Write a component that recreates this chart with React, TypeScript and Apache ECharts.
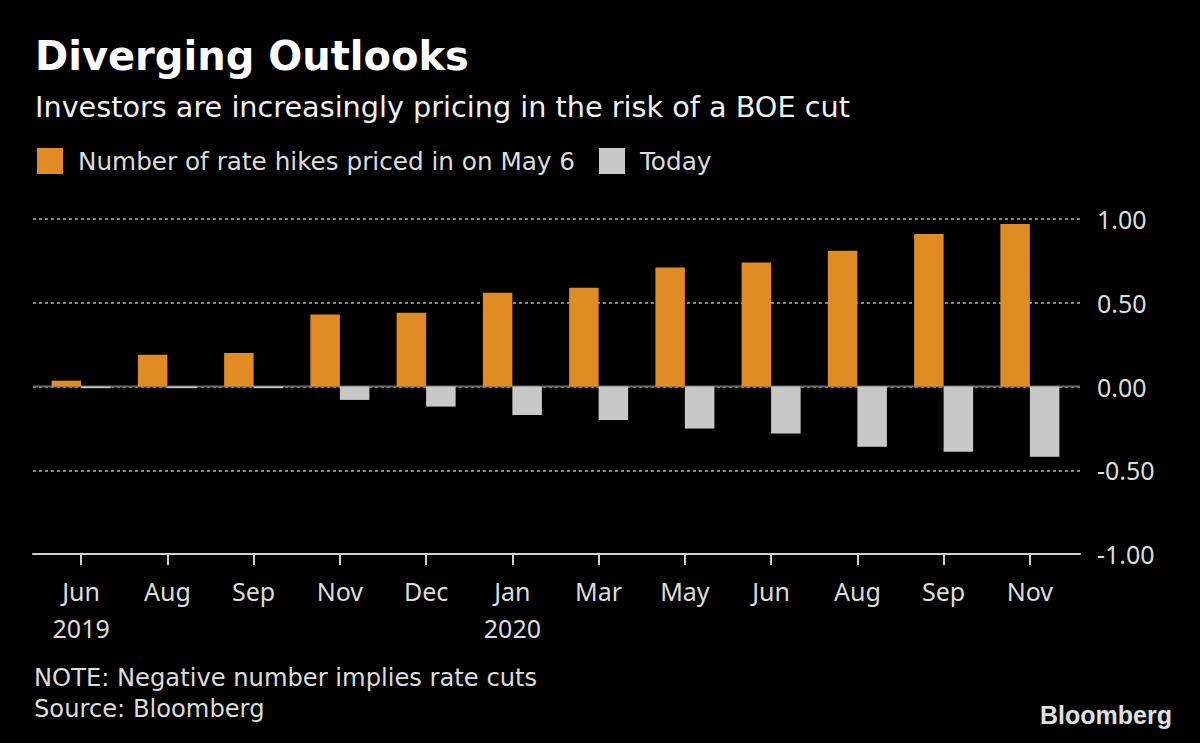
import React, { useEffect, useRef } from "react";
import * as echarts from "echarts";

const months = ["Jun", "Aug", "Sep", "Nov", "Dec", "Jan", "Mar", "May", "Jun", "Aug", "Sep", "Nov"];
const years = ["2019", "", "", "", "", "2020", "", "", "", "", "", ""];
const hikesMay6 = [0.035, 0.19, 0.2, 0.43, 0.44, 0.56, 0.59, 0.71, 0.74, 0.81, 0.91, 0.97];
const today = [-0.01, -0.01, -0.01, -0.08, -0.12, -0.17, -0.2, -0.25, -0.28, -0.36, -0.39, -0.42];
const seriesNames = ["Number of rate hikes priced in on May 6", "Today"];
const yMin = -1;
const yMax = 1;
const yStep = 0.5;

const TEXT_FONT = "DejaVu Sans";
const NUM_FONT = "Noto Sans";

export default function App() {
  const ref = useRef<HTMLDivElement>(null);
  useEffect(() => {
    if (!ref.current) return;
    const chart = echarts.init(ref.current, null, { renderer: "svg" });
    const categories = months.map((m, i) => (years[i] ? `${m}\n${years[i]}` : m));
    chart.setOption({
      animation: false,
      backgroundColor: "#000000",
      textStyle: { fontFamily: TEXT_FONT },
      title: [
        {
          text: "Diverging Outlooks",
          left: 30,
          top: 31,
          textStyle: { color: "#ffffff", fontSize: 40, fontWeight: "bold", fontFamily: TEXT_FONT },
        },
        {
          text: "Investors are increasingly pricing in the risk of a BOE cut",
          left: 30,
          top: 87,
          textStyle: { color: "#f0f0f0", fontSize: 28.7, fontWeight: "normal", fontFamily: TEXT_FONT },
        },
        {
          text: "NOTE: Negative number implies rate cuts\nSource: Bloomberg",
          left: 29,
          top: 657,
          textStyle: { color: "#dcdcdc", fontSize: 24.2, lineHeight: 31, fontWeight: "normal", fontFamily: TEXT_FONT },
        },
        {
          text: "Bloomberg",
          right: 23,
          top: 697,
          textStyle: { color: "#e0e0e0", fontSize: 25, fontWeight: "bold", fontFamily: "Liberation Sans" },
        },
      ],
      legend: {
        data: seriesNames,
        left: 32,
        top: 143,
        icon: "rect",
        itemWidth: 26,
        itemHeight: 26,
        itemGap: 24,
        textStyle: { color: "#dcdcdc", fontSize: 24.7, fontFamily: TEXT_FONT, padding: [0, 0, 0, 10] },
      },
      grid: [
        { left: 33, right: 120, top: 219, bottom: 189 },
        { left: 38, right: 127, top: 219, bottom: 189 },
      ],
      xAxis: [
        {
          type: "value",
          gridIndex: 0,
          min: 0,
          max: 1,
          axisLine: { show: true, onZero: false, lineStyle: { color: "#d0d0d0", width: 2 } },
          axisTick: { show: false },
          axisLabel: { show: false },
          splitLine: { show: false },
        },
        {
          type: "category",
          gridIndex: 1,
          data: categories,
          axisLine: { show: false, onZero: false },
          axisTick: { show: true, alignWithLabel: true, interval: 0, length: 11, lineStyle: { color: "#d0d0d0", width: 2 } },
          axisLabel: { color: "#dcdcdc", fontSize: 25, lineHeight: 37, margin: 18, interval: 0, fontFamily: NUM_FONT },
        },
      ],
      yAxis: [
        {
          type: "value",
          gridIndex: 0,
          position: "right",
          min: yMin,
          max: yMax,
          interval: yStep,
          axisLine: { show: false },
          axisTick: { show: false },
          axisLabel: {
            color: "#dcdcdc",
            fontSize: 25,
            margin: 17,
            align: "left",
            fontFamily: NUM_FONT,
            formatter: (v: number) => v.toFixed(2),
          },
          splitLine: { show: true, lineStyle: { color: "#858585", type: [3, 3], width: 2 } },
        },
        {
          type: "value",
          gridIndex: 1,
          min: yMin,
          max: yMax,
          interval: yStep,
          show: false,
          splitLine: { show: false },
        },
      ],
      series: [
        {
          type: "line",
          xAxisIndex: 0,
          yAxisIndex: 0,
          data: [
            [0, 0],
            [1, 0],
          ],
          symbol: "none",
          silent: true,
          z: 1,
          lineStyle: { color: "#6a6a6a", width: 2 },
        },
        {
          name: seriesNames[0],
          type: "bar",
          xAxisIndex: 1,
          yAxisIndex: 1,
          data: hikesMay6,
          barWidth: 29.5,
          barGap: "0%",
          z: 3,
          itemStyle: { color: "#E08B24" },
        },
        {
          name: seriesNames[1],
          type: "bar",
          xAxisIndex: 1,
          yAxisIndex: 1,
          data: today,
          barWidth: 29.5,
          barGap: "0%",
          z: 3,
          itemStyle: { color: "#C8C8C8" },
        },
      ],
    });
    return () => chart.dispose();
  }, []);
  return (
    <div
      ref={ref}
      style={{ position: "fixed", left: 0, top: 0, width: 1200, height: 743, background: "#000" }}
    />
  );
}
